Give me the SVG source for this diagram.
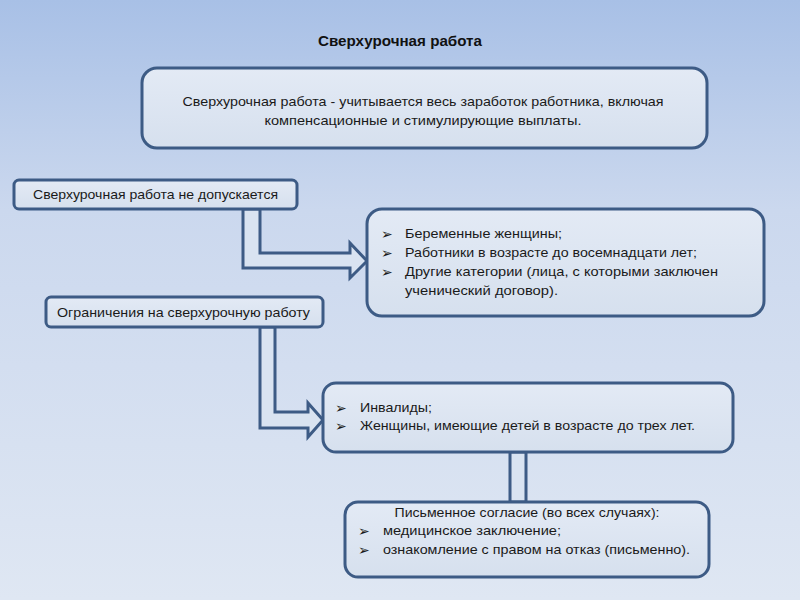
<svg xmlns="http://www.w3.org/2000/svg" width="800" height="600" viewBox="0 0 800 600">
<defs>
<linearGradient id="bg" x1="0" y1="0" x2="0" y2="1">
<stop offset="0" stop-color="#a8c0e6"/>
<stop offset="0.35" stop-color="#cbd8ee"/>
<stop offset="1" stop-color="#dfe7f3"/>
</linearGradient>
<linearGradient id="boxfill" x1="0" y1="0" x2="0" y2="1">
<stop offset="0" stop-color="#e3eaf5"/>
<stop offset="1" stop-color="#d6e0ee"/>
</linearGradient>
</defs>
<style>
.box{fill:url(#boxfill);stroke:#3d5b85;stroke-width:3}
.arr{fill:#d9e3f1;stroke:#3d5b85;stroke-width:3;stroke-linejoin:miter}
.t{font-family:"Liberation Sans",Arial,sans-serif;font-size:13px;fill:#1a1a1a}
.b{font-family:"DejaVu Sans",sans-serif;font-size:14px;fill:#1a1a1a}
.title{font-family:"Liberation Sans",Arial,sans-serif;font-size:14px;font-weight:bold;fill:#111}
</style>
<rect x="0" y="0" width="800" height="600" fill="url(#bg)"/>
<text class="title" x="400" y="46" text-anchor="middle" textLength="164" lengthAdjust="spacingAndGlyphs">Сверхурочная  работа</text>

<g id="connectors">
<polygon class="arr" points="243,209 260,209 260,253 350,253 350,243 367,261 350,278 350,268 243,268"/>
<polygon class="arr" points="260,327 275,327 275,412 308,412 308,403 323,420 308,437 308,428 260,428"/>
<rect class="arr" x="510" y="452" width="16" height="50"/>
</g>

<g id="node-definition">
<rect class="box" x="142" y="68" width="565" height="80" rx="15"/>
<text class="t" x="423" y="106" text-anchor="middle" textLength="481" lengthAdjust="spacingAndGlyphs">Сверхурочная работа  - учитывается весь заработок работника, включая</text>
<text class="t" x="423" y="125" text-anchor="middle" textLength="317" lengthAdjust="spacingAndGlyphs">компенсационные и стимулирующие выплаты.</text>
</g>

<g id="node-not-allowed">
<rect class="box" x="14" y="180" width="283" height="29" rx="5"/>
<text class="t" x="33" y="199" textLength="245" lengthAdjust="spacingAndGlyphs">Сверхурочная работа не допускается</text>
</g>

<g id="node-not-allowed-list">
<rect class="box" x="367" y="209" width="397" height="107" rx="15"/>
<text class="b" x="381" y="239">➢</text>
<text class="t" x="405" y="238" textLength="157" lengthAdjust="spacingAndGlyphs">Беременные женщины;</text>
<text class="b" x="381" y="258">➢</text>
<text class="t" x="405" y="257" textLength="292" lengthAdjust="spacingAndGlyphs">Работники в возрасте до восемнадцати лет;</text>
<text class="b" x="381" y="277">➢</text>
<text class="t" x="405" y="276" textLength="313" lengthAdjust="spacingAndGlyphs">Другие категории  (лица, с которыми заключен</text>
<text class="t" x="405" y="295" textLength="153" lengthAdjust="spacingAndGlyphs">ученический договор).</text>
</g>

<g id="node-restrictions">
<rect class="box" x="46" y="297" width="277" height="30" rx="5"/>
<text class="t" x="57" y="317" textLength="253" lengthAdjust="spacingAndGlyphs">Ограничения на сверхурочную работу</text>
</g>

<g id="node-restrictions-list">
<rect class="box" x="323" y="383" width="410" height="69" rx="13"/>
<text class="b" x="335" y="413">➢</text>
<text class="t" x="360" y="412" textLength="72" lengthAdjust="spacingAndGlyphs">Инвалиды;</text>
<text class="b" x="335" y="431">➢</text>
<text class="t" x="360" y="430" textLength="335" lengthAdjust="spacingAndGlyphs">Женщины, имеющие детей в возрасте до трех лет.</text>
</g>

<g id="node-consent">
<rect class="box" x="345" y="502" width="364" height="75" rx="13"/>
<text class="t" x="527" y="517" text-anchor="middle" textLength="265" lengthAdjust="spacingAndGlyphs">Письменное согласие (во всех случаях):</text>
<text class="b" x="358" y="536">➢</text>
<text class="t" x="383" y="535" textLength="178" lengthAdjust="spacingAndGlyphs">медицинское заключение;</text>
<text class="b" x="358" y="555">➢</text>
<text class="t" x="383" y="554" textLength="307" lengthAdjust="spacingAndGlyphs">ознакомление с правом на отказ (письменно).</text>
</g>
</svg>
